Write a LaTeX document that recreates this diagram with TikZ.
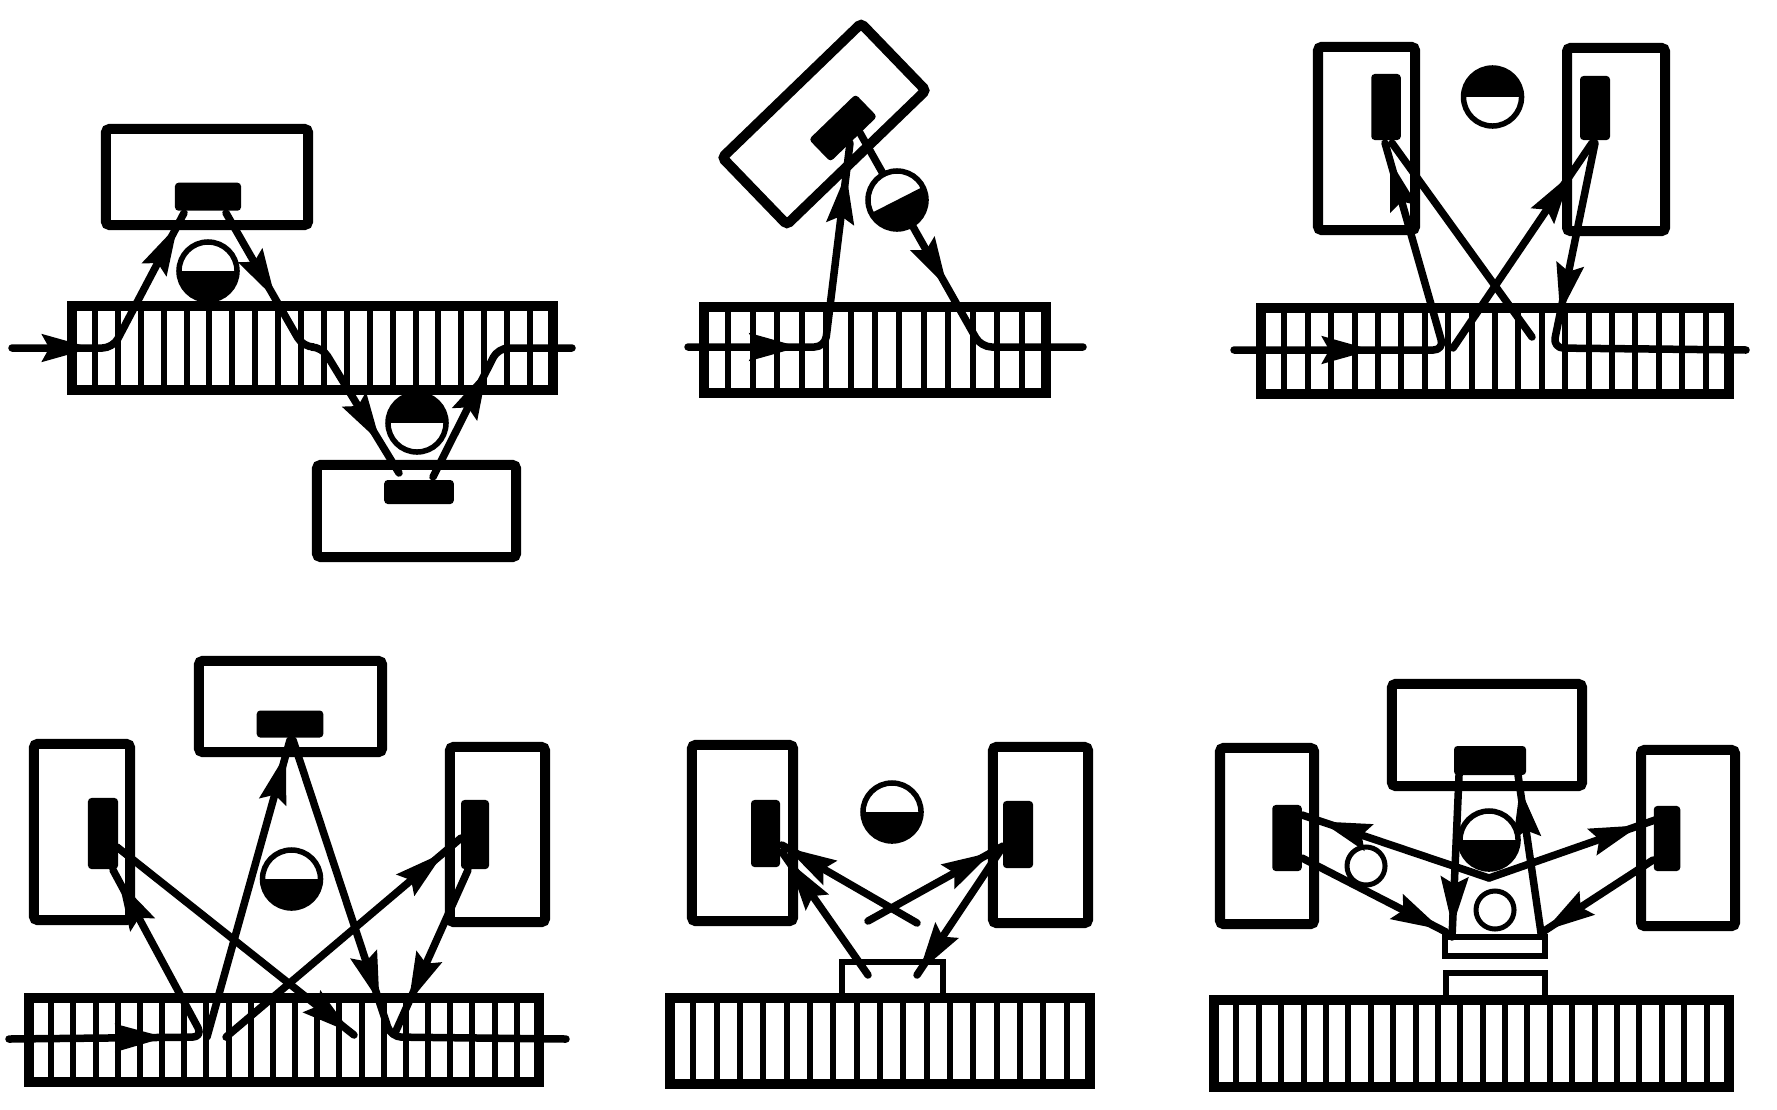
\documentclass[tikz,border=0pt]{standalone}
\usepackage{tikz}
\usetikzlibrary{arrows.meta, decorations.markings}

\tikzset{
  headtip/.tip={Stealth[length=.5cm, width=.27cm, inset=.07cm]},
  housing/.style 2 args={draw, line width=.1cm, inner sep=0, outer sep=0, rounded corners=1pt,
    minimum width=#1cm, minimum height=#2cm},
  detector/.style 2 args={fill=black, inner sep=0, outer sep=0, rounded corners=1pt,
    minimum width=#1cm, minimum height=#2cm},
  block/.style 2 args={draw, line width=.055cm, inner sep=0, outer sep=0,
    minimum width=#1cm, minimum height=#2cm},
  grating/.style 2 args={draw, line width=.1cm, inner sep=0, outer sep=0,
    minimum width=#1cm, minimum height=#2cm},
  bar/.style={line width=.06cm},
  beam/.style={line width=.075cm, line cap=round, line join=round, rounded corners=3pt},
  ball/.style={circle, draw, fill=white, line width=.055cm, inner sep=0, outer sep=0, minimum size=.58cm,
    path picture={\fill[black] (path picture bounding box.center) ++(#1:1cm) -- ++({#1-90}:1cm)
      -- ++({#1+180}:2cm) -- ++({#1+90}:1cm) -- cycle;}},
  ring/.style={circle, draw, line width=.05cm, inner sep=0, outer sep=0, minimum size=.38cm},
  headat/.style={postaction={decorate}, decoration={markings,
    mark=at position #1 with {\arrow{headtip}}}},
  headstwo/.style 2 args={postaction={decorate}, decoration={markings,
    mark=at position #1 with {\arrow{headtip}},
    mark=at position #2 with {\arrow{headtip}}}},
}

\begin{document}
\begin{tikzpicture}[x=.01cm, y=-.01cm]
\useasboundingbox (0,0) rectangle (1777,1109);

% Two detectors either side of the grating
\node[grating={4.81}{.84}] (gratingA) at (312.5,348) {};
\foreach \i in {1,...,20} {
    \pgfmathsetmacro{\x}{72 + \i*22.9}
    \draw[bar] (\x,306) -- (\x,390);
}
\node[housing={2.02}{.96}] (boxAtop) at (207,177) {};
\node[housing={1.99}{.92}] (boxAlow) at (416.5,511) {};
\coordinate (a0) at (12,348);   \coordinate (a1) at (113,348);  \coordinate (a2) at (184,213);
\coordinate (a3) at (226,213);  \coordinate (a4) at (303,347);  \coordinate (a5) at (322,347);
\coordinate (a6) at (399,473);  \coordinate (a7) at (433,477);  \coordinate (a8) at (498,348);
\coordinate (a9) at (572,348);
\draw[beam, headstwo={.32}{.947}] (a0) -- (a1) -- (a2);
\draw[beam, headstwo={.31}{.89}] (a3) -- (a4) -- (a5) -- (a6);
\draw[beam, headat=.56] (a7) -- (a8) -- (a9);
\node[detector={.66}{.28}] (detAtop) at (208,196.7) {};
\node[detector={.695}{.24}] (detAlow) at (419,492) {};
\node[ball=0] (ballAtop) at (208,271) {};
\node[ball=180] (ballAlow) at (417,423) {};

% Tilted detector
\node[grating={3.42}{.86}] (gratingB) at (875,350) {};
\foreach \i in {1,...,13} {
    \pgfmathsetmacro{\x}{704 + \i*24.43}
    \draw[bar] (\x,307) -- (\x,393);
}
\node[housing={1.93}{.93}, rotate=44] (boxB) at (824,124) {};
\coordinate (b0) at (688,347);  \coordinate (b1) at (825,347);  \coordinate (b2) at (850,143);
\coordinate (b3) at (860,133);  \coordinate (b4) at (981,347);  \coordinate (b5) at (1083,347);
\draw[beam, headstwo={.33}{.91}] (b0) -- (b1) -- (b2);
\draw[beam, headat=.514] (b3) -- (b4) -- (b5);
\node[detector={.65}{.31}, rotate=44] (detB) at (843,128) {};
\node[ball=27] (ballB) at (897,200) {};

% Two upright detectors
\node[grating={4.68}{.86}] (gratingC) at (1495,351) {};
\foreach \i in {1,...,19} {
    \pgfmathsetmacro{\x}{1261 + \i*23.4}
    \draw[bar] (\x,308) -- (\x,394);
}
\node[housing={.97}{1.83}] (boxCleft) at (1366.5,138.5) {};
\node[housing={.98}{1.83}] (boxCright) at (1616,139.5) {};
\coordinate (c0) at (1234,350);  \coordinate (c1) at (1444,350);  \coordinate (c2) at (1385,143);
\coordinate (c3) at (1392,143);  \coordinate (c4) at (1532,337);
\coordinate (c5) at (1453,348);  \coordinate (c6) at (1592,143);
\coordinate (c7) at (1595,143);  \coordinate (c8) at (1553,348);  \coordinate (c9) at (1746,350);
\draw[beam, headstwo={.33}{.958}] (c0) -- (c1) -- (c2);
\draw[beam] (c3) -- (c4);
\draw[beam, headat=.85] (c5) -- (c6);
\draw[beam, headat=.44] (c7) -- (c8) -- (c9);
\node[detector={.295}{.66}] (detCleft) at (1386,107) {};
\node[detector={.30}{.64}] (detCright) at (1595,108) {};
\node[ball=180] (ballC) at (1492.5,97) {};

% Three detectors
\node[grating={5.10}{.84}] (gratingD) at (284,1040) {};
\foreach \i in {1,...,22} {
    \pgfmathsetmacro{\x}{29 + \i*22.17}
    \draw[bar] (\x,998) -- (\x,1082);
}
\node[housing={1.83}{.91}] (boxDtop) at (290.5,706.5) {};
\node[housing={.96}{1.76}] (boxDleft) at (82,832) {};
\node[housing={.95}{1.75}] (boxDright) at (497.5,834.5) {};
\coordinate (d0) at (9,1039);    \coordinate (d1) at (203,1037);  \coordinate (d2) at (113,870);
\coordinate (d3) at (207,1037);  \coordinate (d4) at (290,740);
\coordinate (d5) at (293,740);   \coordinate (d6) at (391,1037);  \coordinate (d7) at (566,1039);
\coordinate (d8) at (468,870);   \coordinate (d9) at (395,1033);
\coordinate (d10) at (226,1037); \coordinate (d11) at (461,838);
\coordinate (d12) at (117,847);  \coordinate (d13) at (354,1035);
\draw[beam, headstwo={.417}{.97}] (d0) -- (d1) -- (d2);
\draw[beam, headat=.956] (d3) -- (d4);
\draw[beam, headat=.57] (d5) -- (d6) -- (d7);
\draw[beam, headat=.816] (d8) -- (d9);
\draw[beam, headat=.93] (d10) -- (d11);
\draw[beam, headat=.99] (d12) -- (d13);
\node[detector={.665}{.27}] (detDtop) at (290,724) {};
\node[detector={.30}{.71}] (detDleft) at (103,833.5) {};
\node[detector={.28}{.69}] (detDright) at (475,834.5) {};
\node[ball=0] (ballD) at (291.5,879) {};

% Block on the grating
\node[grating={4.20}{.86}] (gratingE) at (880,1041) {};
\foreach \i in {1,...,17} {
    \pgfmathsetmacro{\x}{670 + \i*23.33}
    \draw[bar] (\x,998) -- (\x,1084);
}
\node[block={1.01}{.36}] (blockE) at (892.5,980) {};
\node[housing={1.01}{1.76}] (boxEleft) at (742.5,833) {};
\node[housing={.95}{1.76}] (boxEright) at (1040.5,835) {};
\coordinate (e0) at (868,975);  \coordinate (e1) at (782,852);
\coordinate (e2) at (917,923);  \coordinate (e3) at (782,845);
\coordinate (e4) at (868,921);  \coordinate (e5) at (1003,846);
\coordinate (e6) at (1000,851); \coordinate (e7) at (917,975);
\draw[beam, headat=.93] (e0) -- (e1);
\draw[beam, headat=.97] (e2) -- (e3);
\draw[beam, headat=.92] (e4) -- (e5);
\draw[beam, headat=.98] (e6) -- (e7);
\node[detector={.29}{.67}] (detEleft) at (765.5,833.5) {};
\node[detector={.30}{.67}] (detEright) at (1018,834.5) {};
\node[ball=0] (ballE) at (892,812) {};

% Block and three detectors with rings
\node[grating={5.15}{.87}] (gratingF) at (1471.5,1043.5) {};
\foreach \i in {1,...,22} {
    \pgfmathsetmacro{\x}{1214 + \i*22.39}
    \draw[bar] (\x,1000) -- (\x,1087);
}
\node[block={.99}{.28}] (blockFlow) at (1495.5,987) {};
\node[block={1.00}{.19}] (blockFup) at (1495,946.5) {};
\node[housing={1.90}{1.02}] (boxFtop) at (1487,735) {};
\node[housing={.94}{1.76}] (boxFleft) at (1267,836) {};
\node[housing={.94}{1.76}] (boxFright) at (1688,838) {};
\coordinate (f0) at (1459,775);  \coordinate (f1) at (1452,937);
\coordinate (f2) at (1541,933);  \coordinate (f3) at (1518,775);
\coordinate (f4) at (1489,878);  \coordinate (f5) at (1302,815);  \coordinate (f6) at (1655,820);
\coordinate (f7) at (1302,858);  \coordinate (f8) at (1446,932);
\coordinate (f9) at (1653,860);  \coordinate (f10) at (1541,933);
\draw[beam, headat=.94] (f0) -- (f1);
\draw[beam, headat=.92] (f2) -- (f3);
\draw[beam, headat=.90] (f4) -- (f5);
\draw[beam, headat=.91] (f4) -- (f6);
\draw[beam, headat=.97] (f7) -- (f8);
\draw[beam, headat=.97] (f9) -- (f10);
\node[detector={.72}{.29}] (detFtop) at (1490,760.5) {};
\node[detector={.295}{.66}] (detFleft) at (1287,838) {};
\node[detector={.265}{.65}] (detFright) at (1667,838.5) {};
\node[ball=0] (ballF) at (1489,840) {};
\node[ring] (ringFleft) at (1366,866) {};
\node[ring] (ringFright) at (1495,910) {};
\end{tikzpicture}
\end{document}
